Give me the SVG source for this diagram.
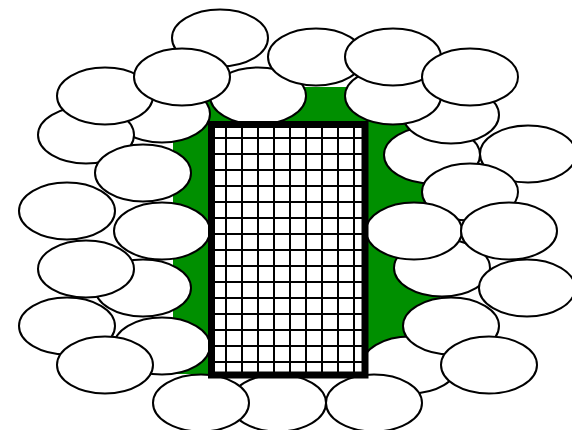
<svg xmlns="http://www.w3.org/2000/svg" width="572" height="430" viewBox="0 0 572 430">
<style>
.e{fill:#fff;stroke:#000;stroke-width:2}
.g{fill:none;stroke:#000;stroke-width:2}
</style>
<defs>
<ellipse id="el" rx="48" ry="28.5"/>
</defs>
<rect width="572" height="430" fill="#fff"/>
<rect id="green" x="173" y="87" width="267" height="287" fill="#008f00"/>
<g id="ellipses">
<g id="n1"><use href="#el" class="e" x="220" y="38"/></g>
<g id="n2"><use href="#el" class="e" x="162" y="114"/></g>
<g id="n3"><use href="#el" class="e" x="258" y="96"/></g>
<g id="n4"><use href="#el" class="e" x="86" y="135"/></g>
<g id="n5"><use href="#el" class="e" x="105" y="96"/></g>
<g id="n6"><use href="#el" class="e" x="182" y="77"/></g>
<g id="n7"><use href="#el" class="e" x="143" y="173"/></g>
<g id="n8"><use href="#el" class="e" x="67" y="211"/></g>
<g id="n9"><use href="#el" class="e" x="162" y="231"/></g>
<g id="n11"><use href="#el" class="e" x="143" y="288"/></g>
<g id="n10"><use href="#el" class="e" x="86" y="269"/></g>
<g id="n12"><use href="#el" class="e" x="67" y="326"/></g>
<g id="n13"><use href="#el" class="e" x="162" y="346"/></g>
<g id="n14"><use href="#el" class="e" x="105" y="365"/></g>
<g id="n15"><use href="#el" class="e" x="278" y="403"/></g>
<g id="n16"><use href="#el" class="e" x="201" y="403"/></g>
<g id="n18"><use href="#el" class="e" x="316" y="57"/></g>
<g id="n19"><use href="#el" class="e" x="432" y="155"/></g>
<g id="n20"><use href="#el" class="e" x="451" y="115"/></g>
<g id="n21"><use href="#el" class="e" x="393" y="96"/></g>
<g id="n22"><use href="#el" class="e" x="393" y="57"/></g>
<g id="n23"><use href="#el" class="e" x="470" y="77"/></g>
<g id="n24"><use href="#el" class="e" x="528" y="154"/></g>
<g id="n25"><use href="#el" class="e" x="470" y="192"/></g>
<g id="n28"><use href="#el" class="e" x="442" y="268"/></g>
<g id="n26"><use href="#el" class="e" x="414" y="231"/></g>
<g id="n27"><use href="#el" class="e" x="509" y="231"/></g>
<g id="n29"><use href="#el" class="e" x="527" y="288"/></g>
<g id="n30"><use href="#el" class="e" x="410" y="365"/></g>
<g id="n31"><use href="#el" class="e" x="451" y="326"/></g>
<g id="n32"><use href="#el" class="e" x="489" y="365"/></g>
<g id="n17"><use href="#el" class="e" x="374" y="403"/></g>
</g>
<g id="grid">
<rect x="211.5" y="124.5" width="153.5" height="250.5" fill="#fff"/>
<path class="g" d="M226 124V375M242 124V375M258 124V375M274 124V375M290 124V375M306 124V375M322 124V375M338 124V375M354 124V375M211 138H365M211 154H365M211 170H365M211 186H365M211 202H365M211 218H365M211 234H365M211 250H365M211 266H365M211 282H365M211 298H365M211 314H365M211 330H365M211 346H365M211 362H365"/>
<rect x="211.5" y="124.5" width="153.5" height="250.5" fill="none" stroke="#000" stroke-width="7"/>
</g>
</svg>
